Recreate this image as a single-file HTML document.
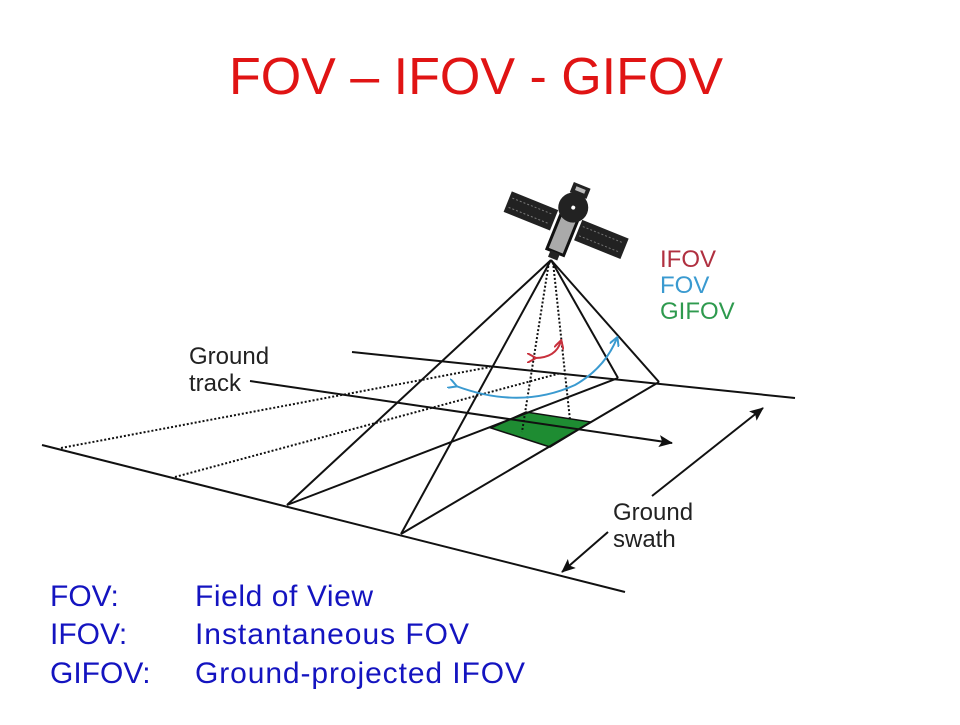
<!DOCTYPE html>
<html><head><meta charset="utf-8"><style>
body{margin:0;background:#fff;}
svg text{font-family:"Liberation Sans",sans-serif;}
</style></head><body>
<svg width="960" height="720" viewBox="0 0 960 720" xmlns="http://www.w3.org/2000/svg">
<defs>
<marker id="ah" markerWidth="14" markerHeight="12" refX="13" refY="6" orient="auto" markerUnits="userSpaceOnUse"><path d="M0,0 L14,6 L0,12 L3,6 Z" fill="#111"/></marker>
<marker id="ahb" markerWidth="10" markerHeight="10" refX="8" refY="5" orient="auto" markerUnits="userSpaceOnUse"><path d="M0,0 L9,5 L0,10" fill="none" stroke="#3a9ad0" stroke-width="2"/></marker>
<marker id="ahr" markerWidth="10" markerHeight="10" refX="8" refY="5" orient="auto" markerUnits="userSpaceOnUse"><path d="M0,0 L9,5 L0,10" fill="none" stroke="#c8303c" stroke-width="2"/></marker>
</defs>
<text x="476" y="94" font-size="52" fill="#e01414" text-anchor="middle">FOV – IFOV - GIFOV</text>

<polygon points="491,428 526,412 591,422 550,447" fill="#1e8c32" stroke="#111" stroke-width="1.5"/>

<g stroke="#111" stroke-width="2" fill="none">
<line x1="352" y1="352" x2="795" y2="398"/>
<line x1="42" y1="445" x2="625" y2="592"/>
<line x1="250" y1="381" x2="672" y2="443" marker-end="url(#ah)"/>
<line x1="551" y1="260" x2="287" y2="505"/>
<line x1="551" y1="260" x2="401" y2="534"/>
<line x1="551" y1="260" x2="618" y2="378"/>
<line x1="551" y1="260" x2="659" y2="382"/>
<line x1="287" y1="505" x2="618" y2="378"/>
<line x1="401" y1="534" x2="659" y2="382"/>
<line x1="652" y1="496" x2="763" y2="408" marker-end="url(#ah)"/>
<line x1="608" y1="532" x2="562" y2="572" marker-end="url(#ah)"/>
</g>
<g stroke="#111" stroke-width="2" fill="none" stroke-dasharray="2,2">
<line x1="61" y1="448" x2="490" y2="367"/>
<line x1="175" y1="477" x2="561" y2="373"/>
<line x1="549" y1="262" x2="522" y2="432"/>
<line x1="553" y1="262" x2="570" y2="420"/>
</g>
<path d="M456,386 Q520,410 575,385 Q605,368 617,338" fill="none" stroke="#3a9ad0" stroke-width="2" marker-end="url(#ahb)" marker-start="url(#ahb)"/>
<path d="M535,358 Q556,358 561,341" fill="none" stroke="#c8303c" stroke-width="2" marker-end="url(#ahr)" marker-start="url(#ahr)"/>

<g transform="translate(565,228) rotate(22)">
<rect x="-63" y="-14" width="50" height="22" fill="#222"/>
<rect x="13" y="-14" width="50" height="22" fill="#222"/>
<g stroke="#777" stroke-width="1" stroke-dasharray="2,2">
<line x1="-60" y1="-8" x2="-16" y2="-8"/><line x1="-60" y1="2" x2="-16" y2="2"/>
<line x1="16" y1="-8" x2="60" y2="-8"/><line x1="16" y1="2" x2="60" y2="2"/>
</g>
<rect x="-9" y="-12" width="18" height="38" fill="#aaa" stroke="#111" stroke-width="3"/>
<rect x="-5" y="26" width="10" height="7" fill="#222"/>
<circle cx="0" cy="-22" r="15" fill="#222"/>
<circle cx="0" cy="-22" r="2" fill="#fff"/>
<rect x="-9" y="-46" width="18" height="11" fill="#222"/>
<rect x="-5" y="-43" width="10" height="4" fill="#bbb"/>
</g>

<text x="660" y="267" font-size="24" fill="#b03040">IFOV</text>
<text x="660" y="293" font-size="24" fill="#3a9ad0">FOV</text>
<text x="660" y="319" font-size="24" fill="#2e9a4e">GIFOV</text>
<text x="189" y="364" font-size="24" fill="#222">Ground</text>
<text x="189" y="391" font-size="24" fill="#222">track</text>
<text x="613" y="520" font-size="24" fill="#222">Ground</text>
<text x="613" y="547" font-size="24" fill="#222">swath</text>

<g font-size="30" fill="#1414c0">
<text x="50" y="606">FOV:</text><text x="195" y="606" textLength="178">Field of View</text>
<text x="50" y="644">IFOV:</text><text x="195" y="644" textLength="274">Instantaneous FOV</text>
<text x="50" y="683">GIFOV:</text><text x="195" y="683" textLength="330">Ground-projected IFOV</text>
</g>
</svg>
</body></html>
